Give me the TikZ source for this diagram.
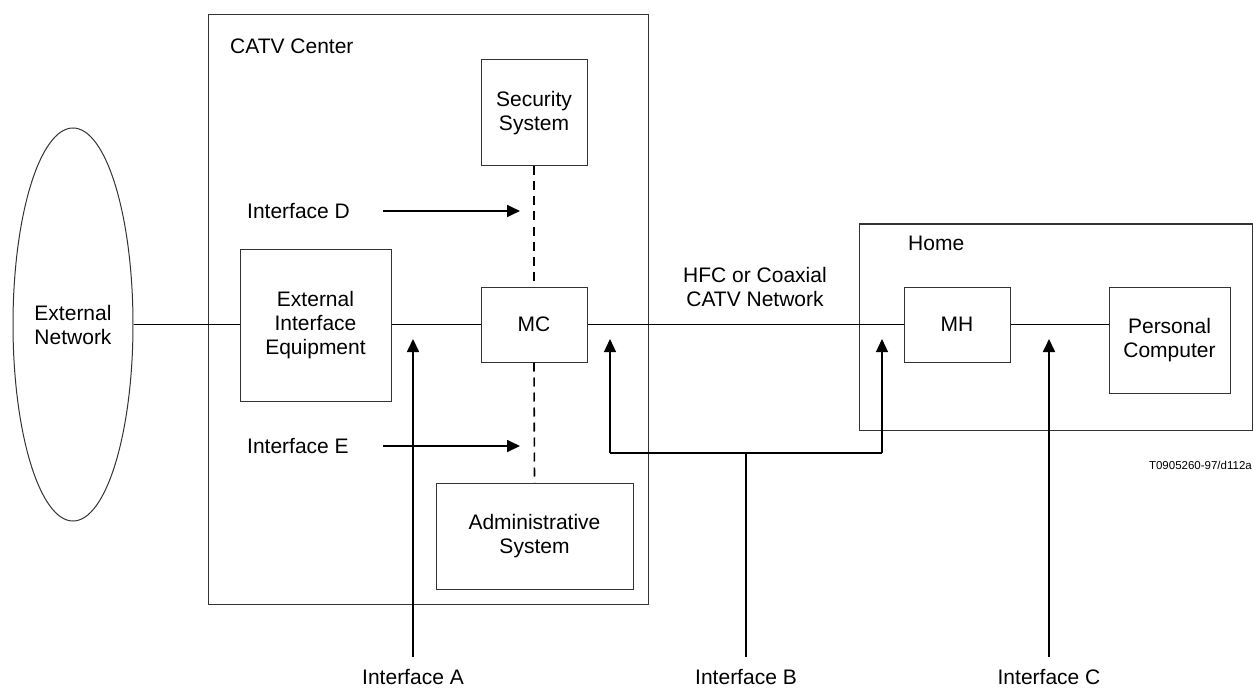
\documentclass[tikz,border=0pt]{standalone}
\usepackage{fontspec}
\setmainfont{Liberation Sans}
\usetikzlibrary{shapes.geometric,arrows.meta}
\tikzset{
  box/.style={draw=black!80, line width=1pt, inner sep=0pt, align=center, font=\fontsize{21}{24}\selectfont},
  lbl/.style={inner sep=0pt, align=center, font=\fontsize{21}{24}\selectfont},
  wire/.style={line width=1.6pt},
  thinwire/.style={line width=1.1pt},
  dashwire/.style={line width=1.6pt, dash pattern=on 9pt off 6pt},
  arr/.style={line width=1.7pt, -{Triangle[length=13pt,width=12pt]}},
  thinarr/.style={line width=1.1pt, -{Triangle[length=13pt,width=12pt]}},
}
\begin{document}
\begin{tikzpicture}[x=1pt,y=-1pt]
\useasboundingbox (0,0) rectangle (1254,690);
% containers
\node[box, minimum width=440, minimum height=589] (catv) at (428,309.5) {};
\node[box, minimum width=393, minimum height=206] (home) at (1055.5,327) {};
\node[lbl, anchor=west] (catvl) at (230,46) {CATV Center};
\node[lbl, anchor=west] (homel) at (908,243) {Home};
% nodes
\node[box, ellipse, minimum width=120, minimum height=393] (ext) at (73,324.5) {External\\Network};
\node[box, minimum width=151, minimum height=152] (eie) at (315.5,325) {External\\Interface\\Equipment};
\node[box, minimum width=106, minimum height=75] (mc) at (534,324.5) {MC};
\node[box, minimum width=106, minimum height=106] (sec) at (534,113) {Security\\System};
\node[box, minimum width=197, minimum height=106] (adm) at (534.5,536) {Administrative\\System};
\node[box, minimum width=106, minimum height=75] (mh) at (957,324.5) {MH};
\node[box, minimum width=121, minimum height=106] (pc) at (1169.5,340) {Personal\\Computer};
\node[lbl] (hfc) at (755,286.5) {HFC or Coaxial\\CATV Network};
% connectors
\draw[wire] (ext.east) -- (eie.west |- ext.east);
\draw[wire] (eie.east |- mc.west) -- (mc.west);
\draw[wire] (mc.east) -- (mh.west);
\draw[wire] (mh.east) -- (pc.west |- mh.east);
\draw[dashwire] (sec.south) -- (mc.north);
\draw[dashwire] (mc.south) -- (adm.north);
% interfaces D and E
\node[lbl, anchor=west] (ifd) at (247,211) {Interface D};
\node[lbl, anchor=west] (ife) at (247,446) {Interface E};
\coordinate (d0) at (383,211);
\coordinate (d1) at (520,211);
\coordinate (e0) at (383,446);
\coordinate (e1) at (520,446);
\draw[arr] (d0) -- (d1);
\draw[arr] (e0) -- (e1);
% interface A
\node[lbl] (ifa) at (413,677) {Interface A};
\coordinate (a0) at (413,657);
\coordinate (a1) at (413,339);
\draw[arr] (a0) -- (a1);
% interface B
\node[lbl] (ifb) at (746,677) {Interface B};
\coordinate (b0) at (746,657);
\coordinate (b1) at (746,453);
\coordinate (bl) at (610,453);
\coordinate (br) at (882,453);
\coordinate (bl1) at (610,339);
\coordinate (br1) at (882,339);
\draw[wire] (b0) -- (b1);
\draw[thinwire] (bl) -- (br);
\draw[thinarr] (bl) -- (bl1);
\draw[thinarr] (br) -- (br1);
% interface C
\node[lbl] (ifc) at (1049,677) {Interface C};
\coordinate (c0) at (1049,657);
\coordinate (c1) at (1049,339);
\draw[arr] (c0) -- (c1);
% figure id
\node[inner sep=0pt, anchor=east, font=\fontsize{11.5}{14}\selectfont] (fid) at (1252,465) {T0905260-97/d112a};
\end{tikzpicture}
\end{document}
